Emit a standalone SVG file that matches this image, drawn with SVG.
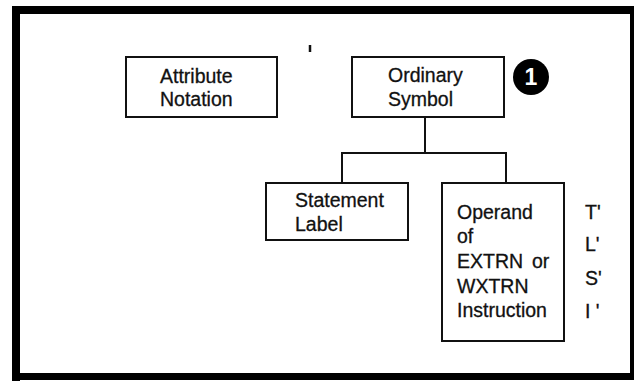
<svg xmlns="http://www.w3.org/2000/svg" width="639" height="381" viewBox="0 0 639 381">
<style>
.box{fill:#fff;stroke:#111;stroke-width:2}
.t{font-family:"Liberation Sans",Arial,sans-serif;font-size:19.5px;fill:#111;stroke:#111;stroke-width:0.3}
.ln{stroke:#111;stroke-width:2;fill:none}
</style>
<rect width="639" height="381" fill="#fff"/>
<g id="frame" fill="#000">
<rect x="12" y="6" width="622" height="8"/>
<rect x="12" y="6" width="8" height="375"/>
<rect x="630" y="6" width="4" height="372"/>
<rect x="12" y="373" width="622" height="7"/>
</g>
<g id="connectors">
<path class="ln" d="M425 117V153M342 183V153H506V183"/>
</g>
<g id="attribute-notation">
<rect class="box" x="126" y="57" width="151" height="60"/>
<text class="t" x="160" y="83">Attribute</text>
<text class="t" x="160" y="106">Notation</text>
</g>
<g id="tick">
<line x1="310" y1="45" x2="310" y2="52" stroke="#111" stroke-width="2.5"/>
</g>
<g id="ordinary-symbol">
<rect class="box" x="352" y="57" width="152" height="60"/>
<text class="t" x="388" y="82">Ordinary</text>
<text class="t" x="388" y="106">Symbol</text>
</g>
<g id="marker-1">
<circle cx="531" cy="77" r="18" fill="#000"/>
<text x="531" y="85" text-anchor="middle" font-family="Liberation Sans,Arial,sans-serif" font-weight="bold" font-size="23" fill="#fff">1</text>
</g>
<g id="statement-label">
<rect class="box" x="266" y="183" width="142" height="57"/>
<text class="t" x="295" y="207">Statement</text>
<text class="t" x="295" y="231">Label</text>
</g>
<g id="operand">
<rect class="box" x="442" y="183" width="122" height="158"/>
<text class="t" x="457" y="219">Operand</text>
<text class="t" x="457" y="243">of</text>
<text class="t" x="457" y="268">EXTRN  <tspan x="532">or</tspan></text>
<text class="t" x="457" y="293">WXTRN</text>
<text class="t" x="457" y="317">Instruction</text>
</g>
<g id="attributes">
<text class="t" x="585" y="219">T'</text>
<text class="t" x="585" y="251">L'</text>
<text class="t" x="585" y="285">S'</text>
<text class="t" x="585" y="318">I '</text>
</g>
</svg>
